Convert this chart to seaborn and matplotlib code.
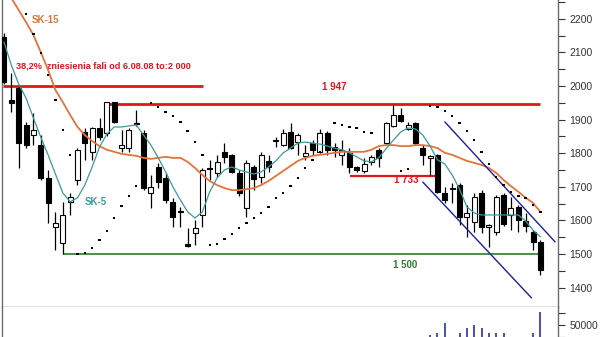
import numpy as np
import pandas as pd
import matplotlib
matplotlib.use("Agg")
import matplotlib.pyplot as plt
import seaborn as sns

# ---------------- data ----------------
opens = [2146, 1958, 1994, 1884, 1854, 1824, 1726, 1580, 1533, 1655,
         1720, 1863, 1804, 1875, 1860, 1952, 1815, 1815, 1887, 1860,
         1682, 1759, 1726, 1655, 1625, 1530, 1563, 1616, 1756, 1741,
         1804, 1795, 1741, 1637, 1759, 1729, 1777, 1836, 1824, 1863,
         1833, 1792, 1830, 1804, 1860, 1818, 1795, 1801, 1759, 1747,
         1774, 1810, 1830, 1881, 1914, 1872, 1890, 1815, 1786, 1795,
         1682, 1697, 1705, 1610, 1595, 1682, 1580, 1565, 1676, 1616,
         1640, 1598, 1565, 1536]
highs = [2158, 2039, 2003, 1893, 1920, 1854, 1750, 1625, 1655, 1682,
         1815, 1875, 1878, 1905, 1952, 1952, 1869, 1875, 1929, 1869,
         1735, 1771, 1741, 1667, 1640, 1577, 1601, 1756, 1780, 1795,
         1830, 1798, 1750, 1780, 1765, 1804, 1795, 1848, 1872, 1890,
         1860, 1824, 1839, 1872, 1866, 1830, 1839, 1815, 1762, 1786,
         1795, 1815, 1893, 1943, 1935, 1893, 1893, 1824, 1795, 1798,
         1700, 1711, 1711, 1646, 1682, 1690, 1588, 1676, 1682, 1670,
         1646, 1622, 1571, 1542]
lows = [2005, 1923, 1756, 1815, 1824, 1720, 1592, 1512, 1500, 1616,
        1705, 1780, 1780, 1839, 1851, 1890, 1804, 1804, 1881, 1690,
        1637, 1696, 1652, 1580, 1580, 1522, 1527, 1580, 1720, 1729,
        1771, 1741, 1673, 1610, 1690, 1711, 1744, 1818, 1822, 1813,
        1795, 1780, 1795, 1801, 1795, 1789, 1765, 1741, 1744, 1741,
        1765, 1759, 1828, 1878, 1893, 1869, 1824, 1765, 1735, 1682,
        1652, 1652, 1586, 1551, 1565, 1562, 1521, 1556, 1583, 1571,
        1565, 1565, 1512, 1438]
closes = [2012, 1949, 1830, 1824, 1869, 1726, 1652, 1592, 1616, 1670,
          1810, 1830, 1875, 1848, 1952, 1893, 1824, 1869, 1889, 1696,
          1700, 1714, 1661, 1610, 1627, 1524, 1577, 1750, 1753, 1774,
          1789, 1744, 1682, 1771, 1723, 1795, 1759, 1839, 1860, 1815,
          1854, 1801, 1810, 1860, 1810, 1810, 1810, 1759, 1750, 1768,
          1789, 1786, 1890, 1914, 1896, 1884, 1830, 1795, 1792, 1685,
          1661, 1694, 1610, 1622, 1670, 1580, 1586, 1670, 1589, 1637,
          1601, 1583, 1536, 1452]

sk5 = [2131, 2062, 2006, 1964, 1905, 1848, 1795, 1738, 1682, 1655,
       1667, 1705, 1759, 1818, 1857, 1878, 1878, 1881, 1884, 1854,
       1824, 1786, 1744, 1699, 1661, 1625, 1607, 1625, 1685, 1726,
       1750, 1759, 1750, 1744, 1738, 1744, 1759, 1777, 1801, 1815,
       1830, 1833, 1830, 1827, 1821, 1815, 1810, 1801, 1789, 1777,
       1774, 1786, 1813, 1839, 1863, 1875, 1872, 1854, 1821, 1780,
       1768, 1735, 1693, 1640, 1622, 1616, 1616, 1616, 1616, 1616,
       1616, 1598, 1571, 1551]

sk15_start = 1
sk15 = [2262, 2226, 2190, 2152, 2101, 2048, 1988, 1952, 1914, 1878, 1854,
        1836, 1821, 1810, 1804, 1798, 1795, 1792, 1786, 1783, 1786,
        1789, 1786, 1786, 1774, 1756, 1735, 1717, 1705, 1696, 1690,
        1690, 1693, 1696, 1705, 1717, 1732, 1747, 1762, 1777, 1786,
        1792, 1795, 1798, 1801, 1804, 1804, 1804, 1804, 1810, 1821,
        1824, 1824, 1821, 1821, 1824, 1824, 1821, 1815, 1801, 1795,
        1786, 1777, 1771, 1765, 1756, 1741, 1720, 1702, 1685, 1667,
        1652, 1625]

sar_idx = [3, 4, 5, 6, 7, 8, 9,
           10, 11, 12, 13, 14, 15, 16, 17, 18,
           20, 21, 22, 23, 24, 25, 26, 27,
           28, 29, 30, 31, 32, 33, 34, 35, 36, 37, 38, 39, 40, 41, 42, 43,
           45, 46, 47, 48, 49, 50,
           54, 55,
           58, 59, 60, 61, 62, 63, 64, 65, 66, 67, 68, 69, 70, 71, 72, 73]
sar_val = [2214, 2155, 2098, 2033, 1958, 1869, 1795,
           1500, 1503, 1518, 1542, 1569, 1607, 1643, 1673, 1702,
           1949, 1938, 1923, 1911, 1893, 1866, 1833, 1795,
           1527, 1530, 1545, 1560, 1577, 1592, 1607, 1622, 1640, 1667, 1682,
           1702, 1726, 1756, 1780, 1804,
           1890, 1884, 1878, 1875, 1863, 1860,
           1747, 1753,
           1941, 1938, 1926, 1911, 1890, 1866, 1839, 1804, 1768, 1729,
           1705, 1685, 1673, 1667, 1646, 1625]

vol_idx = [58, 59, 60, 62, 63, 64, 65, 66, 67, 68, 72, 73]
vol_val = [29000, 33000, 54000, 33000, 44000, 50000, 44000, 33000, 33000,
           33000, 33000, 77000]

# horizontal levels and their index spans
lvl_fib = 2000
lvl_res = 1947
lvl_mid = 1733
lvl_sup = 1500
fib_span = (-0.15, 27.1)
res_span = (13.7, 72.9)
mid_span = (47.1, 58.9)
sup_span = (8.0, 73.1)

# channel lines: (index, price) end points
chan_up_x = [60.0, 75.0]
chan_up_y = [1893, 1536]
chan_lo_x = [57.0, 71.8]
chan_lo_y = [1714, 1369]

price_ticks = [1400, 1500, 1600, 1700, 1800, 1900, 2000, 2100, 2200]
vol_ticks = [50000]

fib_label = "38,2%  zniesienia fali od 6.08.08 to:2 000"
res_label = "1 947"
mid_label = "1 733"
sup_label = "1 500"

# ---------------- styling ----------------
sns.set_style("white")
plt.rcParams['font.family'] = ['Liberation Sans', 'DejaVu Sans']

RED = "#e3141b"
ORANGE = "#e2743a"
TEAL = "#3a9a9c"
GREEN = "#2f7d2f"
NAVY = "#1c1f9c"
GRAY = "#6b6b6b"

n = len(opens)
idx = np.arange(n)
df = pd.DataFrame({"i": idx, "open": opens, "high": highs, "low": lows,
                   "close": closes, "sk5": sk5})
df["sk15"] = np.nan
df.loc[sk15_start:sk15_start + len(sk15) - 1, "sk15"] = sk15

fig = plt.figure(figsize=(6.0, 3.37), dpi=100)
ax = fig.add_axes([2 / 600, 30 / 337, 556 / 600, 307 / 337])
axv = fig.add_axes([2 / 600, 0, 556 / 600, 30 / 337])

ax.set_xlim(-0.27, 75.4)
ax.set_ylim(1342, 2256)
axv.set_xlim(-0.27, 75.4)
axv.set_ylim(25000, 87500)

# wicks
ax.vlines(df["i"], df["low"], df["high"], color="black", lw=0.9, zorder=3)
# bodies
up = df["close"] >= df["open"]
bottoms = np.minimum(df["open"], df["close"])
heights = np.maximum(np.abs(df["close"] - df["open"]), 2)
ax.bar(df["i"][up], heights[up], bottom=bottoms[up], width=0.68,
       color="white", edgecolor="black", linewidth=0.8, zorder=4)
ax.bar(df["i"][~up], heights[~up], bottom=bottoms[~up], width=0.68,
       color="black", edgecolor="black", linewidth=0.8, zorder=4)

# moving averages
sns.lineplot(data=df, x="i", y="sk15", ax=ax, color=ORANGE, lw=1.3, zorder=5)
sns.lineplot(data=df, x="i", y="sk5", ax=ax, color=TEAL, lw=0.9, zorder=5)

# parabolic SAR
sns.scatterplot(x=sar_idx, y=sar_val, ax=ax, s=3, color="black",
                edgecolor="none", marker="s", zorder=6)

# levels
ax.hlines(lvl_fib, *fib_span, color=RED, lw=2.0, zorder=2)
ax.hlines(lvl_res, *res_span, color=RED, lw=2.0, zorder=2)
ax.hlines(lvl_mid, *mid_span, color=RED, lw=1.6, zorder=2)
ax.hlines(lvl_sup, *sup_span, color=GREEN, lw=1.2, zorder=2)

# channel
ax.plot(chan_up_x, chan_up_y, color=NAVY, lw=1.0, zorder=5)
ax.plot(chan_lo_x, chan_lo_y, color=NAVY, lw=1.0, zorder=5)

# labels
lab_font = ['Liberation Sans Narrow', 'Liberation Sans', 'DejaVu Sans']
ax.text(1.6, 2060, fib_label, color=RED, fontsize=6.6, fontweight="bold",
        ha="left", va="center", family=lab_font)
ax.text(44.9, 1997, res_label, color=RED, fontsize=7, fontweight="bold",
        ha="center", va="center", family=lab_font)
ax.text(54.8, 1719, mid_label, color=RED, fontsize=7, fontweight="bold",
        ha="center", va="center", family=lab_font)
ax.text(54.6, 1467, sup_label, color=GREEN, fontsize=7, fontweight="bold",
        ha="center", va="center", family=lab_font)
ax.text(3.8, 2196, "SK-15", color=ORANGE, fontsize=7, fontweight="bold",
        ha="left", va="center", family=lab_font)
ax.text(11.0, 1655, "SK-5", color=TEAL, fontsize=7, fontweight="bold",
        ha="left", va="center", family=lab_font)

# volume
axv.vlines(vol_idx, 0, vol_val, color=NAVY, lw=1.1)

# axes cosmetics
for a in (ax, axv):
    a.set_xticks([])
    a.set_xlabel("")
    a.set_ylabel("")
    a.yaxis.tick_right()
    a.tick_params(axis="y", which="both", direction="out", length=5,
                  width=0.8, color="#333333", labelsize=7.5,
                  labelcolor="#333333", pad=3)
    a.spines["top"].set_visible(False)
    for s in ("left", "right"):
        a.spines[s].set_color(GRAY)
        a.spines[s].set_linewidth(1.0)
ax.spines["bottom"].set_color(GRAY)
ax.spines["bottom"].set_linewidth(1.0)
axv.spines["bottom"].set_visible(False)

ax.set_yticks(price_ticks)
ax.set_yticks([t + 50 for t in price_ticks], minor=True)
ax.set_yticklabels([str(t) for t in price_ticks])
axv.set_yticks(vol_ticks)
axv.set_yticks([25000, 75000], minor=True)
axv.set_yticklabels([str(t) for t in vol_ticks])

fig.savefig("out.png", dpi=100)
